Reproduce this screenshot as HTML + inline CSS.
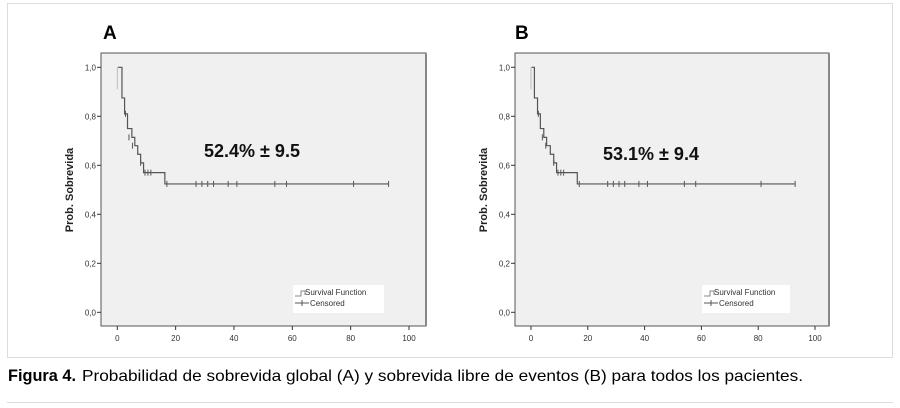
<!DOCTYPE html>
<html><head><meta charset="utf-8"><style>
body{margin:0;background:#fff;}
#wrap{position:relative;width:900px;height:408px;overflow:hidden;font-family:"Liberation Sans",sans-serif;}
svg text{font-family:"Liberation Sans",sans-serif;}
</style></head><body>
<div id="wrap">
<svg id="chart" width="900" height="408">
<rect x="7.5" y="3.5" width="885" height="354" fill="#fff" stroke="#ddd"/>
<line x1="7" y1="402.5" x2="893" y2="402.5" stroke="#ddd"/>
<text x="8" y="381" font-size="17" font-weight="bold" textLength="68" lengthAdjust="spacingAndGlyphs">Figura 4.</text>
<text x="82" y="381" font-size="16" textLength="721" lengthAdjust="spacingAndGlyphs">Probabilidad de sobrevida global (A) y sobrevida libre de eventos (B) para todos los pacientes.</text>
</svg>
</div>
<script>
const xTicks=[0,20,40,60,80,100];
const yTicks=[0,0.2,0.4,0.6,0.8,1.0];
const yTickLabels=["0,0","0,2","0,4","0,6","0,8","1,0"];
const stepTimesA=[0.2,1.6,2.5,3.5,5,6,7,8,9,16.3,93];
const stepSurvA=[1.0,0.875,0.81,0.75,0.714,0.68,0.645,0.61,0.57,0.524,0.524];
const censorTimesA=[2.8,4,5.2,8,9.5,10.5,11.5,17,27,29,31,33,38,41,54,58,81,93];
const censorSurvA=[0.81,0.714,0.68,0.61,0.57,0.57,0.57,0.524,0.524,0.524,0.524,0.524,0.524,0.524,0.524,0.524,0.524,0.524];
const stepTimesB=[0.2,1.2,2.3,3.3,4.5,5.5,6.8,8,9,16.3,93];
const stepSurvB=[1.0,0.875,0.81,0.75,0.714,0.68,0.645,0.61,0.57,0.524,0.524];
const censorTimesB=[2.6,4,5.2,8,9.5,10.5,11.5,17,27,29,31,33,38,41,54,58,81,93];
const censorSurvB=[0.81,0.714,0.68,0.61,0.57,0.57,0.57,0.524,0.524,0.524,0.524,0.524,0.524,0.524,0.524,0.524,0.524,0.524];
const panels=[
 {id:"a",letter:"A",box:[101,53,426,326],x0:117.3,x100:409,note:"52.4% ± 9.5",nx:252,ny:157,lx:293,lw:91,yt:73,letterX:103,
  st:stepTimesA,ss:stepSurvA,ct:censorTimesA,cs:censorSurvA},
 {id:"b",letter:"B",box:[515,53,829,326],x0:531,x100:815,note:"53.1% ± 9.4",nx:651,ny:160,lx:702,lw:88,yt:487,letterX:515,
  st:stepTimesB,ss:stepSurvB,ct:censorTimesB,cs:censorSurvB}
];
const svg=document.getElementById('chart');
const NS="http://www.w3.org/2000/svg";
function mk(tag,attrs,parent,name){const e=document.createElementNS(NS,tag);for(const k in attrs)e.setAttribute(k,attrs[k]);
 
 
 (parent||svg).appendChild(e);return e;}
panels.forEach(p=>{
 const g=mk('g',{},svg,'panel-'+p.id);
 const X=t=>p.x0+(p.x100-p.x0)*t/100;
 const Y=s=>312.3-245*s;
 const [l,t,r,b]=p.box;
 const lt=mk('text',{x:p.letterX,y:39,'font-size':19,'font-weight':'bold'},g,'panel-letter');lt.textContent=p.letter;
 mk('rect',{x:l,y:t,width:r-l,height:b-t,fill:'#f0f0f0',stroke:'#555','stroke-width':1},g,'plot-area');
 mk('line',{x1:r,y1:t+1,x2:r,y2:b,stroke:'#888','stroke-width':2},g,'plot-shadow');
 yTicks.forEach((v,i)=>{const y=Y(v);
  mk('line',{x1:l-4,y1:y,x2:l,y2:y,stroke:'#333'},g,'y-tick');
  const tx=mk('text',{x:l-5,y:y+3,'font-size':8,'text-anchor':'end',fill:'#333'},g,'y-tick-label');tx.textContent=yTickLabels[i];});
 xTicks.forEach(v=>{const x=X(v);
  mk('line',{x1:x,y1:b,x2:x,y2:b+4,stroke:'#333'},g,'x-tick');
  const tx=mk('text',{x:x,y:b+15,'font-size':8,'text-anchor':'middle',fill:'#333'},g,'x-tick-label');tx.textContent=v;});
 const yt=mk('text',{x:p.yt,y:190,'font-size':11,'font-weight':'bold','text-anchor':'middle',transform:`rotate(-90 ${p.yt} 190)`,fill:'#222'},g,'y-axis-title');yt.textContent='Prob. Sobrevida';
 mk('line',{x1:X(0),y1:Y(0.91),x2:X(0),y2:Y(1),stroke:'#bbb'},g,'start-line');
 let d=`M${X(p.st[0])},${Y(p.ss[0])}`;
 for(let i=1;i<p.st.length;i++){d+=` H${X(p.st[i])} V${Y(p.ss[i])}`;}
 mk('path',{d:d,fill:'none',stroke:'#555','stroke-width':1.2},g,'survival-line');
 p.ct.forEach((c,i)=>{const x=X(c),y=Y(p.cs[i]);
  mk('line',{x1:x,y1:y-3,x2:x,y2:y+3,stroke:'#555'},g,'censor-mark');});
 const nt=mk('text',{x:p.nx,y:p.ny,'font-size':18,'font-weight':'bold','text-anchor':'middle',fill:'#111'},g,'survival-annotation');nt.textContent=p.note;
 const lg=mk('g',{},g,'legend');
 mk('rect',{x:p.lx,y:285,width:p.lw,height:28,fill:'#fff'},lg,'legend-box');
 mk('path',{d:`M${p.lx+2},296 H${p.lx+8} V291 H${p.lx+12} V295`,fill:'none',stroke:'#888'},lg,'legend-survival-symbol');
 const t1=mk('text',{x:p.lx+12,y:295,'font-size':8,fill:'#333'},lg,'legend-survival-label');t1.textContent='Survival Function';
 mk('line',{x1:p.lx+2,y1:303,x2:p.lx+16,y2:303,stroke:'#555'},lg,'legend-censored-line');
 mk('line',{x1:p.lx+9,y1:300,x2:p.lx+9,y2:306,stroke:'#555'},lg,'legend-censored-mark');
 const t2=mk('text',{x:p.lx+17,y:306,'font-size':8,fill:'#333'},lg,'legend-censored-label');t2.textContent='Censored';
});
</script>
</body></html>
